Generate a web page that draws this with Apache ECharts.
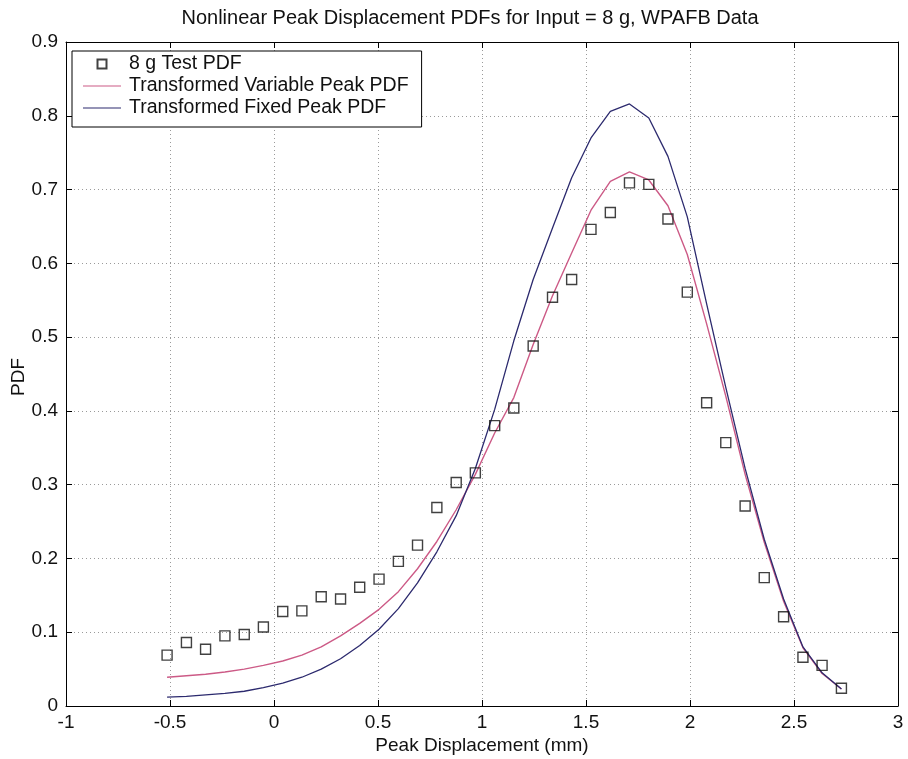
<!DOCTYPE html>
<html>
<head>
<meta charset="utf-8">
<script src="https://cdn.jsdelivr.net/npm/echarts@6/dist/echarts.min.js"></script>
<style>
  html, body { margin: 0; padding: 0; background: #fff; }
  #chart { width: 908px; height: 759px; }
</style>
</head>
<body>
<div id="chart"></div>
<script>
// Peak displacement grid (mm) shared by the test histogram and both transformed PDFs
var peakX = [-0.514, -0.421, -0.329, -0.236, -0.143, -0.051, 0.042, 0.134, 0.227, 0.320,
             0.412, 0.505, 0.598, 0.690, 0.783, 0.876, 0.968, 1.061, 1.153, 1.246,
             1.339, 1.431, 1.524, 1.617, 1.709, 1.802, 1.894, 1.987, 2.080, 2.172,
             2.265, 2.357, 2.450, 2.543, 2.635, 2.728];

// 8 g test PDF
var testPdf = [0.069, 0.086, 0.077, 0.095, 0.097, 0.107, 0.128, 0.129, 0.148, 0.145,
               0.161, 0.172, 0.196, 0.218, 0.269, 0.303, 0.316, 0.380, 0.404, 0.488,
               0.554, 0.578, 0.646, 0.669, 0.709, 0.707, 0.660, 0.561, 0.411, 0.357,
               0.271, 0.174, 0.121, 0.066, 0.055, 0.024];

// Transformed variable-peak PDF
var variablePdf = [0.039, 0.041, 0.043, 0.046, 0.050, 0.055, 0.061, 0.069, 0.080, 0.095,
                   0.112, 0.131, 0.155, 0.186, 0.223, 0.266, 0.314, 0.370, 0.418, 0.490,
                   0.556, 0.614, 0.672, 0.711, 0.724, 0.713, 0.678, 0.612, 0.518, 0.420,
                   0.314, 0.222, 0.142, 0.079, 0.044, 0.023];

// Transformed fixed-peak PDF
var fixedPdf = [0.012, 0.013, 0.015, 0.017, 0.020, 0.025, 0.031, 0.039, 0.050, 0.064,
                0.082, 0.104, 0.132, 0.167, 0.209, 0.258, 0.322, 0.402, 0.495, 0.578,
                0.648, 0.716, 0.770, 0.806, 0.816, 0.797, 0.745, 0.663, 0.545, 0.432,
                0.322, 0.226, 0.145, 0.080, 0.045, 0.023];

var seriesNames = ['8 g Test PDF', 'Transformed Variable Peak PDF', 'Transformed Fixed Peak PDF'];
var yAxisTitle = 'PDF';

var RED = '#cc5a86';
var NAVY = '#2c2a6e';

function pairs(ys) {
  return peakX.map(function (x, i) { return [x, ys[i]]; });
}

var FONT = '"Liberation Sans", Arial, sans-serif';
var FS = 19;
var gridLine = { show: true, lineStyle: { color: '#9a9a9a', width: 1, type: [1, 3] } };
var frameLine = { show: true, onZero: false, lineStyle: { color: '#000', width: 1 } };
var innerTick = { show: true, inside: true, length: 6, lineStyle: { color: '#000', width: 1 } };

// legend swatches: an open square for the test data, short strokes for the curves
var squareIcon = 'path://M0,0L10,0L10,10L0,10Z';
var strokeIcon = 'path://M0,0L40,0L40,1.3L0,1.3Z';

var chart = echarts.init(document.getElementById('chart'), null, { renderer: 'canvas' });

chart.setOption({
  animation: false,
  backgroundColor: '#fff',
  title: {
    text: 'Nonlinear Peak Displacement PDFs for Input = 8 g, WPAFB Data',
    left: 465, top: 3, textAlign: 'center',
    textStyle: { fontFamily: FONT, fontSize: 20, fontWeight: 'normal', color: '#111' }
  },
  grid: { left: 66, right: 10, top: 42, bottom: 53, containLabel: false, outerBoundsMode: 'none' },
  // vertical y-axis title, placed beside the tick labels
  graphic: [{
    type: 'text',
    x: 19, y: 377,
    rotation: Math.PI / 2,
    style: {
      text: yAxisTitle,
      fontFamily: FONT, fontSize: FS,
      fill: '#111',
      align: 'center', verticalAlign: 'middle'
    }
  }],
  legend: {
    data: [
      { name: seriesNames[0], icon: squareIcon },
      { name: seriesNames[1], icon: strokeIcon, itemStyle: { color: RED, borderWidth: 0 } },
      { name: seriesNames[2], icon: strokeIcon, itemStyle: { color: NAVY, borderWidth: 0 } }
    ],
    orient: 'vertical',
    left: 72, top: 51,
    padding: [3, 13, 9, 11],
    itemWidth: 38, itemHeight: 9, itemGap: 2,
    backgroundColor: '#fff',
    borderColor: '#000', borderWidth: 1,
    textStyle: { fontFamily: FONT, fontSize: 19.5, color: '#111', padding: [0, 0, 0, 3] }
  },
  xAxis: [
    {
      type: 'value', min: -1, max: 3, interval: 0.5,
      name: 'Peak Displacement (mm)', nameLocation: 'middle', nameGap: 30,
      nameMoveOverlap: false,
      nameTextStyle: { fontFamily: FONT, fontSize: FS, color: '#111' },
      axisLine: frameLine, axisTick: innerTick,
      axisLabel: { fontFamily: FONT, fontSize: FS, color: '#111', margin: 7 },
      splitLine: gridLine
    },
    {
      type: 'value', min: -1, max: 3, interval: 0.5, position: 'top',
      axisLine: frameLine, axisTick: innerTick,
      axisLabel: { show: false }, splitLine: { show: false }
    }
  ],
  yAxis: [
    {
      type: 'value', min: 0, max: 0.9, interval: 0.1,
      axisLine: frameLine, axisTick: innerTick,
      axisLabel: { fontFamily: FONT, fontSize: FS, color: '#111', margin: 8 },
      splitLine: gridLine
    },
    {
      type: 'value', min: 0, max: 0.9, interval: 0.1, position: 'right',
      axisLine: frameLine, axisTick: innerTick,
      axisLabel: { show: false }, splitLine: { show: false }
    }
  ],
  series: [
    {
      name: seriesNames[0], type: 'scatter',
      xAxisIndex: 0, yAxisIndex: 0,
      symbol: 'rect', symbolSize: 10,
      itemStyle: { color: 'rgba(0,0,0,0)', borderColor: '#111', borderWidth: 1.4 },
      data: pairs(testPdf), z: 5
    },
    {
      name: seriesNames[1], type: 'line',
      xAxisIndex: 0, yAxisIndex: 0,
      symbol: 'none', showSymbol: false,
      lineStyle: { color: RED, width: 1.4 },
      itemStyle: { color: RED },
      data: pairs(variablePdf), z: 3
    },
    {
      name: seriesNames[2], type: 'line',
      xAxisIndex: 0, yAxisIndex: 0,
      symbol: 'none', showSymbol: false,
      lineStyle: { color: NAVY, width: 1.3 },
      itemStyle: { color: NAVY },
      data: pairs(fixedPdf), z: 4
    }
  ]
});
</script>
</body>
</html>
